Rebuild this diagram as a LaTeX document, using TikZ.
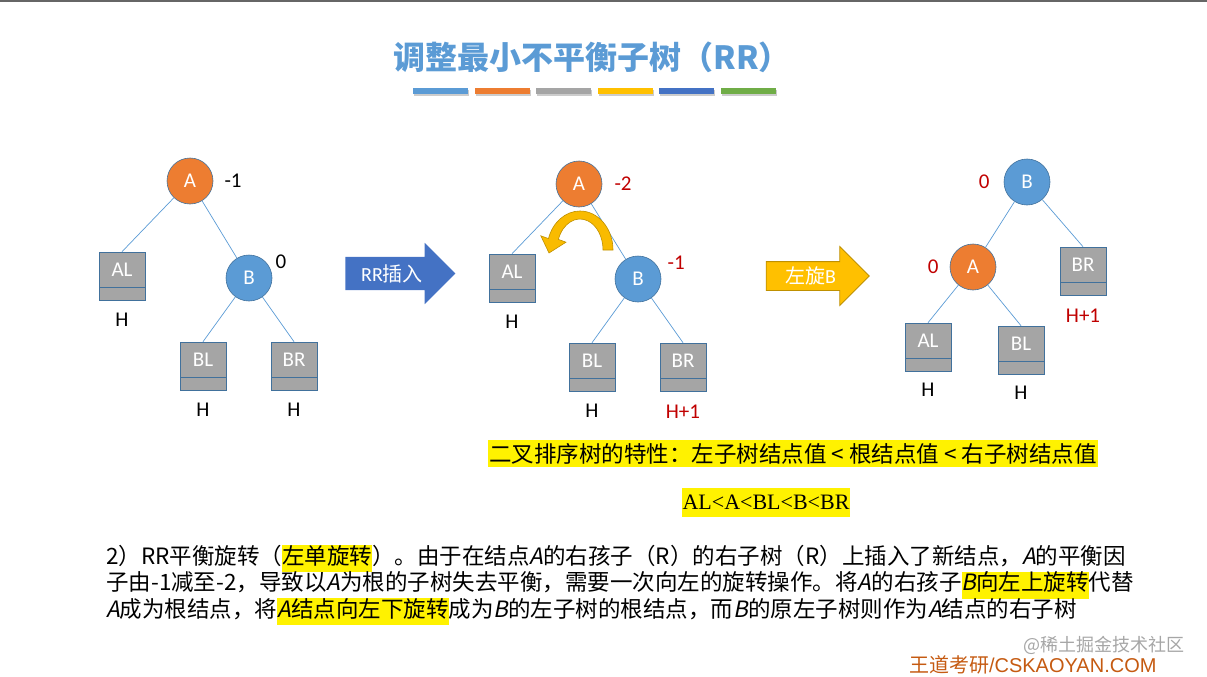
\documentclass[tikz,border=0pt]{standalone}
\usepackage{fontspec}
\usetikzlibrary{positioning, shapes.arrows}
\setmainfont{Carlito}
\newfontfamily\cjk{Noto Sans CJK SC}[AutoFakeSlant=0.2]
\newfontfamily\timesfont{Liberation Serif}
\newfontfamily\arialfont{Liberation Sans}
\definecolor{titleblue}{HTML}{5B9BD5}
\definecolor{nodeorange}{HTML}{ED7D31}
\definecolor{nodeblue}{HTML}{5B9BD5}
\definecolor{nodeline}{HTML}{41719C}
\definecolor{boxgrey}{HTML}{A5A5A5}
\definecolor{bfred}{HTML}{C00000}
\definecolor{arrowblue}{HTML}{4472C4}
\definecolor{gold}{HTML}{FFC000}
\definecolor{golddark}{HTML}{BF9000}
\definecolor{bargrey}{HTML}{A5A5A5}
\definecolor{bardark}{HTML}{4472C4}
\definecolor{bargreen}{HTML}{70AD47}
\definecolor{brandbrown}{HTML}{C55A11}
\newcommand{\hlt}[1]{{\setlength{\fboxsep}{0pt}\colorbox{yellow}{\strut #1}}}

\begin{document}
\begin{tikzpicture}[x=1pt, y=-1pt,
    avl/.style={circle, draw=nodeline, line width=0.6pt, minimum size=46pt,
                inner sep=0pt, text=white, font=\fontsize{21}{24}\selectfont},
    avla/.style={avl, fill=nodeorange},
    avlb/.style={avl, fill=nodeblue},
    subtree/.style={draw=nodeline, line width=0.6pt, fill=boxgrey,
                    minimum width=46pt, minimum height=48pt, inner sep=0pt,
                    text height=9pt, text depth=9pt, text=white,
                    font=\fontsize{21}{24}\selectfont,
                    path picture={\draw[nodeline, line width=0.6pt]
                      ([yshift=13pt]path picture bounding box.south west) --
                      ([yshift=13pt]path picture bounding box.south east);}},
    hlabel/.style={inner sep=0pt, font=\fontsize{21}{24}\selectfont},
    bf/.style={inner sep=0pt, font=\fontsize{21}{24}\selectfont},
    treeline/.style={nodeblue, line width=0.7pt},
    para/.style={inner sep=0pt, anchor=base west,
                 font=\cjk\fontsize{22.5}{27}\selectfont}]
  \useasboundingbox (0,0) rectangle (1207,677);
  \draw[black!60, line width=2pt] (0,1) -- (1207,1);

  % title and colour bars
  \node[font=\cjk\bfseries\fontsize{32}{37}\selectfont, text=titleblue]
    (title) at (592,57) {调整最小不平衡子树（RR）};
  \foreach \c [count=\i from 0] in {nodeblue, nodeorange, bargrey, gold, bardark, bargreen}{%
    \fill[black!20] (414+\i*61.6,90) rectangle ++(55,6);
    \fill[\c] (413+\i*61.6,88) rectangle ++(55,6);}

  % tree before insertion
  \node[avla] (a1) at (190,181) {A};
  \node[avlb] (b1) at (249,278) {B};
  \node[subtree] (al1) at (122,276) {AL};
  \node[subtree] (bl1) at (203,366) {BL};
  \node[subtree] (br1) at (294,366) {BR};
  \node[bf, right=11pt of a1] {-1};
  \node[bf, right=10pt of b1.north east] {0};
  \foreach \t in {al1, bl1, br1}
    \node[hlabel, below=13pt of \t] {H};
  \foreach \p/\c in {a1/al1.north, a1/b1, b1/bl1.north, b1/br1.north}
    \draw[treeline] (\p) -- (\c);

  \node[single arrow, fill=arrowblue, minimum height=110pt, minimum width=61pt,
        single arrow head extend=14pt, inner sep=1pt, text height=23pt,
        text depth=8pt, text=white, font=\fontsize{20}{24}\selectfont]
    (ins) at (392,273.5) {RR\cjk 插入};

  % tree after insertion
  \node[avla] (a2) at (579,184) {A};
  \node[avlb] (b2) at (638,279) {B};
  \node[subtree] (al2) at (512,278) {AL};
  \node[subtree] (bl2) at (592,367) {BL};
  \node[subtree] (br2) at (683,367) {BR};
  \node[bf, text=bfred, right=12pt of a2] {-2};
  \node[bf, text=bfred, right=13pt of b2.north east] {-1};
  \node[hlabel, below=13pt of al2] {H};
  \node[hlabel, below=13pt of bl2] {H};
  \node[hlabel, text=bfred, below=13pt of br2] {H+1};
  \foreach \p/\c in {a2/al2.north, a2/b2, b2/bl2.north, b2/br2.north}
    \draw[treeline] (\p) -- (\c);
  \filldraw[fill=gold!90!golddark, draw=golddark, line width=0.6pt]
    (613,250) arc[start angle=0, end angle=-163, x radius=33, y radius=39]
    -- (540.8,235.8) -- (549,253) -- (566,242.2) -- (558.4,239.4)
    arc[start angle=-160, end angle=0, x radius=23, y radius=31] -- cycle;

  \node[single arrow, fill=gold, draw=golddark, line width=0.8pt,
        minimum height=103pt, minimum width=58pt,
        single arrow head extend=15pt, inner sep=1pt, text height=20.5pt,
        text depth=5.5pt, text=white, font=\fontsize{20}{24}\selectfont]
    (rot) at (810.5,276) {{\cjk 左旋}B};

  % tree after rotation
  \node[avlb] (b3) at (1027,182) {B};
  \node[avla] (a3) at (973,267) {A};
  \node[subtree] (br3) at (1083,271) {BR};
  \node[subtree] (al3) at (928,347) {AL};
  \node[subtree] (bl3) at (1021,350) {BL};
  \node[bf, text=bfred, left=14pt of b3] {0};
  \node[bf, text=bfred, left=11pt of a3] {0};
  \node[hlabel, text=bfred, below=13pt of br3] {H+1};
  \node[hlabel, below=12pt of al3] {H};
  \node[hlabel, below=12pt of bl3] {H};
  \foreach \p/\c in {b3/a3, b3/br3.north, a3/al3.north, a3/bl3.north}
    \draw[treeline] (\p) -- (\c);

  % notes
  \node[fill=yellow, inner xsep=1pt, inner ysep=0pt, minimum height=27pt,
        font=\cjk\fontsize{22.5}{26}\selectfont]
    (prop) at (793,453.5) {二叉排序树的特性：左子树结点值 < 根结点值 < 右子树结点值};
  \node[fill=yellow, inner sep=1pt, minimum height=29pt,
        font=\timesfont\fontsize{22}{26}\selectfont]
    (order) at (766,502) {AL<A<BL<B<BR};
  \node[para] (p1) at (106,564)
    {2）RR平衡旋转（\hlt{左单旋转}）。由于在结点\textit{A}的右孩子（R）的右子树（R）上插入了新结点，\textit{A}的平衡因};
  \node[para] (p2) at ([yshift=-26.5pt]p1.base west)
    {子由-1减至-2，导致以\textit{A}为根的子树失去平衡，需要一次向左的旋转操作。将\textit{A}的右孩子\hlt{\textit{B}向左上旋转}代替};
  \node[para] (p3) at ([yshift=-26.5pt]p2.base west)
    {\textit{A}成为根结点，将\hlt{\textit{A}结点向左下旋转}成为\textit{B}的左子树的根结点，而\textit{B}的原左子树则作为\textit{A}结点的右子树};

  \node[font=\cjk\fontsize{18}{21}\selectfont, text=black!35, anchor=east]
    (mark) at (1188,645) {@稀土掘金技术社区};
  \node[font=\arialfont\fontsize{20}{24}\selectfont, text=brandbrown, anchor=east]
    (brand) at (1160,665) {{\cjk 王道考研}/CSKAOYAN.COM};
\end{tikzpicture}
\end{document}
